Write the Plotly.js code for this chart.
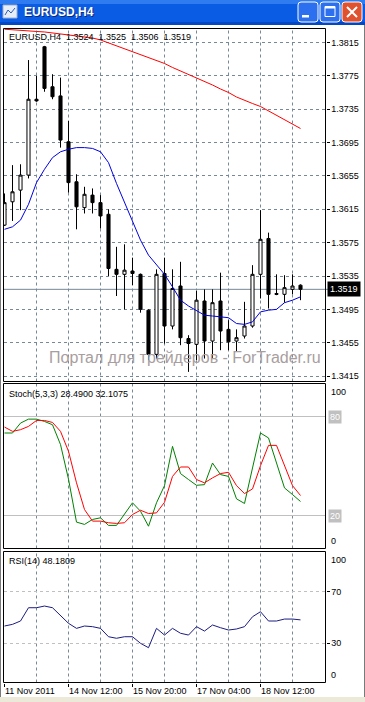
<!DOCTYPE html>
<html><head><meta charset="utf-8">
<script src="https://cdn.plot.ly/plotly-3.0.1.min.js"></script>
<style>html,body{margin:0;padding:0;background:#fff;overflow:hidden}#chart{width:365px;height:702px}</style>
</head><body><div id="chart"></div>
<script>
// ---------- data ----------
const windowTitle = 'EURUSD,H4';
const symbol = 'EURUSD,H4';
const dateLabels = ['11 Nov 2011', '14 Nov 12:00', '15 Nov 20:00', '17 Nov 04:00', '18 Nov 12:00'];
const dateLabelBars = [0, 8, 16, 24, 32];
const gridBars = [4, 8, 12, 16, 20, 24, 28, 32, 36];
const priceTicks = [1.3815, 1.3775, 1.3735, 1.3695, 1.3655, 1.3615, 1.3575, 1.3535, 1.3495, 1.3455, 1.3415];

const open  = [1.3596,1.3624,1.3638,1.3656,1.3747,1.3810,1.3762,1.3751,1.3696,1.3648,
               1.3617,1.3632,1.3623,1.3609,1.3543,1.3537,1.3541,1.3537,1.3494,1.3441,
               1.3538,1.3475,1.3523,1.3460,1.3453,1.3505,1.3457,1.3505,1.3471,1.3457,
               1.3463,1.3475,1.3537,1.3580,1.3514,1.3513,1.3519,1.3524];
const high  = [1.3634,1.3668,1.3669,1.3794,1.3775,1.3811,1.3777,1.3773,1.3721,1.3657,
               1.3642,1.3640,1.3632,1.3615,1.3570,1.3573,1.3557,1.3538,1.3495,1.3543,
               1.3557,1.3543,1.3552,1.3464,1.3517,1.3519,1.3519,1.3539,1.3482,1.3471,
               1.3504,1.3548,1.3614,1.3587,1.3537,1.3536,1.3537,1.3525];
const low   = [1.3595,1.3601,1.3614,1.3652,1.3744,1.3756,1.3747,1.3689,1.3635,1.3591,
               1.3610,1.3610,1.3592,1.3535,1.3511,1.3495,1.3524,1.3491,1.3434,1.3436,
               1.3454,1.3471,1.3452,1.3420,1.3434,1.3436,1.3436,1.3446,1.3446,1.3445,
               1.3460,1.3473,1.3508,1.3496,1.3512,1.3503,1.3513,1.3506];
const close = [1.3623,1.3636,1.3656,1.3747,1.3745,1.3760,1.3750,1.3698,1.3647,1.3618,
               1.3633,1.3623,1.3607,1.3544,1.3537,1.3542,1.3538,1.3495,1.3441,1.3537,
               1.3475,1.3520,1.3461,1.3454,1.3506,1.3457,1.3503,1.3469,1.3456,1.3461,
               1.3475,1.3537,1.3579,1.3513,1.3513,1.3521,1.3523,1.3519];

const maSlow = [1.38310,1.38301,1.38295,1.38288,1.38283,1.38277,1.38267,1.38259,1.38241,1.38229,
                1.38217,1.38205,1.38181,1.38145,1.38109,1.38073,1.38043,1.38001,1.37965,1.37935,
                1.37899,1.37851,1.37809,1.37773,1.37731,1.37689,1.37641,1.37593,1.37551,1.37497,
                1.37455,1.37419,1.37383,1.37331,1.37275,1.37221,1.37173,1.37119];
const maFast = [1.3591,1.3594,1.3602,1.3621,1.3647,1.3663,1.3677,1.3684,1.3687,1.3689,
                1.3689,1.3688,1.3684,1.3671,1.3646,1.3624,1.3600,1.3578,1.3560,1.3549,
                1.3537,1.3522,1.3506,1.3499,1.3493,1.3488,1.3487,1.3486,1.3485,1.3478,
                1.3477,1.3480,1.3492,1.3494,1.3495,1.3503,1.3506,1.3510];

const stochMain   = [70,70,76,78.4,78.4,77,75,63,42,16,
                     14.6,17.6,18.6,14,14,20.6,27.7,22.6,13.5,27.7,
                     38.1,61.9,45.4,41.8,38.3,38.7,51.8,44.8,43.7,30.1,
                     27.3,48.8,70,67,51.8,36.7,32.7,28.49];
const stochSignal = [73.6,71,72,74,77.6,77.6,76.4,71,58.9,39.8,
                     23.6,16.6,16.6,15.6,15.2,15.6,20.6,23.2,21.2,21.6,
                     28,43.7,49.4,49.4,41.8,39.8,42.8,45.4,46.2,38.1,
                     33.3,36.1,50.2,62.5,62.5,49.8,38.1,32.1075];
const stochLevels = [80, 20];
const stochBounds = [100, 0];

const rsi = [43.4,44.7,47.3,57.6,57.6,58.9,57.6,51.4,45.5,41.6,
             43.4,42.9,41.6,35.1,33.9,35.1,35.1,30,26.6,41.6,
             36.4,41.6,37.8,36.4,42.9,39.5,44.2,42.1,40.3,41.1,
             42.9,50.6,54.5,47.3,47.3,48.8,48.8,48.1809];
const rsiLevels = [70, 30];
const rsiBounds = [100, 0];

const watermark = 'Портал для трейдеров - ForTrader.ru';

// ---------- geometry helpers (pixels -> paper) ----------
const W = 365, H = 702;
const px = x => x / W;
const py = y => 1 - y / H;
const FONT = 'Liberation Sans, Arial, sans-serif';
const X0 = 3.5, X1 = 325.5;
const paneMain = [28.5, 381.5], paneStoch = [383.5, 548.5], paneRsi = [551.5, 682.5];
const GRID = '#778899';

const bars = open.map((_, i) => i);
const last = open.length - 1;
const f4 = v => v.toFixed(4);
const sp = '\u00A0\u00A0';

const traces = [
  {type: 'candlestick', x: bars, open: open, high: high, low: low, close: close,
   xaxis: 'x', yaxis: 'y', whiskerwidth: 0, hoverinfo: 'skip', showlegend: false,
   increasing: {line: {color: '#000000', width: 1}, fillcolor: '#ffffff'},
   decreasing: {line: {color: '#000000', width: 1}, fillcolor: '#000000'}},
  {type: 'scatter', mode: 'lines', x: bars, y: maSlow, xaxis: 'x', yaxis: 'y',
   line: {color: '#FF0000', width: 1}, hoverinfo: 'skip', showlegend: false},
  {type: 'scatter', mode: 'lines', x: bars, y: maFast, xaxis: 'x', yaxis: 'y',
   line: {color: '#0000E0', width: 1}, hoverinfo: 'skip', showlegend: false},
  {type: 'scatter', mode: 'lines', x: bars, y: stochMain, xaxis: 'x', yaxis: 'y2',
   line: {color: '#008000', width: 1}, hoverinfo: 'skip', showlegend: false},
  {type: 'scatter', mode: 'lines', x: bars, y: stochSignal, xaxis: 'x', yaxis: 'y2',
   line: {color: '#FF0000', width: 1}, hoverinfo: 'skip', showlegend: false},
  {type: 'scatter', mode: 'lines', x: bars, y: rsi, xaxis: 'x', yaxis: 'y3',
   line: {color: '#1C1C80', width: 1}, hoverinfo: 'skip', showlegend: false}
];

const shapes = [];
// vertical dashed grid in every pane
[paneMain, paneStoch, paneRsi].forEach(p => {
  gridBars.forEach(g => shapes.push({type: 'line', xref: 'x', yref: 'paper', x0: g, x1: g,
    y0: py(p[1]), y1: py(p[0]), line: {color: GRID, width: 1, dash: '3px,3px'}, layer: 'below'}));
});
// stochastic levels
stochLevels.forEach(l => shapes.push({type: 'line', xref: 'paper', yref: 'y2', x0: px(X0), x1: px(X1),
  y0: l, y1: l, line: {color: '#C0C0C0', width: 1}, layer: 'below'}));
// current price line
shapes.push({type: 'line', xref: 'paper', yref: 'y', x0: px(X0), x1: px(328), y0: close[last], y1: close[last],
  line: {color: GRID, width: 1}, layer: 'below'});
// pane borders
[paneMain, paneStoch, paneRsi].forEach(p => shapes.push({type: 'rect', xref: 'paper', yref: 'paper',
  x0: px(X0), x1: px(X1), y0: py(p[1]), y1: py(p[0]), line: {color: '#000000', width: 1}, layer: 'above'}));

// window chrome
function rr(x0, y0, x1, y1, r) {
  return `M${px(x0 + r)},${py(y0)} L${px(x1 - r)},${py(y0)} Q${px(x1)},${py(y0)} ${px(x1)},${py(y0 + r)} ` +
         `L${px(x1)},${py(y1 - r)} Q${px(x1)},${py(y1)} ${px(x1 - r)},${py(y1)} L${px(x0 + r)},${py(y1)} ` +
         `Q${px(x0)},${py(y1)} ${px(x0)},${py(y1 - r)} L${px(x0)},${py(y0 + r)} Q${px(x0)},${py(y0)} ${px(x0 + r)},${py(y0)} Z`;
}
const P = (o) => Object.assign({xref: 'paper', yref: 'paper', layer: 'above'}, o);
shapes.push(P({type: 'rect', x0: 0, x1: 1, y0: py(25), y1: 1, fillcolor: '#0A5CE4', line: {width: 0}}));
shapes.push(P({type: 'rect', x0: 0, x1: 1, y0: py(4), y1: 1, fillcolor: '#2F7BF0', line: {width: 0}}));
shapes.push(P({type: 'rect', x0: 0, x1: 1, y0: py(25), y1: py(22), fillcolor: '#0447C4', line: {width: 0}}));
shapes.push(P({type: 'line', x0: px(0.5), x1: px(0.5), y0: 0, y1: py(25), line: {color: '#7A7A7A', width: 1}}));
shapes.push(P({type: 'line', x0: px(364.5), x1: px(364.5), y0: 0, y1: py(25), line: {color: '#7A7A7A', width: 1}}));
shapes.push(P({type: 'rect', x0: 0, x1: 1, y0: 0, y1: py(697), fillcolor: '#ECE9D8', line: {width: 0}}));
// icon
shapes.push(P({type: 'rect', x0: px(3), x1: px(17), y0: py(18), y1: py(5), fillcolor: '#E8EEF6', line: {color: '#9DB2D0', width: 1}}));
shapes.push(P({type: 'path', path: `M${px(5)},${py(15)} L${px(8)},${py(10)} L${px(11)},${py(13)} L${px(15)},${py(8)}`,
  line: {color: '#2A5FC0', width: 1}}));
// buttons
shapes.push(P({type: 'path', path: rr(298, 2, 318, 22, 3), fillcolor: '#2C6FEF', line: {color: '#FFFFFF', width: 1}}));
shapes.push(P({type: 'rect', x0: px(302), x1: px(309), y0: py(17.5), y1: py(15), fillcolor: '#FFFFFF', line: {width: 0}}));
shapes.push(P({type: 'path', path: rr(320, 2, 340, 22, 3), fillcolor: '#2C6FEF', line: {color: '#FFFFFF', width: 1}}));
shapes.push(P({type: 'rect', x0: px(325), x1: px(335), y0: py(16.5), y1: py(6.5), line: {color: '#FFFFFF', width: 1}}));
shapes.push(P({type: 'rect', x0: px(325), x1: px(335), y0: py(8.5), y1: py(6.5), fillcolor: '#FFFFFF', line: {width: 0}}));
shapes.push(P({type: 'path', path: rr(342, 2, 362, 22, 3), fillcolor: '#E0512F', line: {color: '#FFFFFF', width: 1}}));
shapes.push(P({type: 'path', path: `M${px(347)},${py(7)} L${px(357)},${py(17)} M${px(357)},${py(7)} L${px(347)},${py(17)}`,
  line: {color: '#FFFFFF', width: 2}}));

const A = (o) => Object.assign({xref: 'paper', yref: 'paper', showarrow: false, xanchor: 'left', yanchor: 'middle',
  font: {family: FONT, size: 9, color: '#000000'}}, o);
const annotations = [
  A({x: px(23), y: py(13), text: windowTitle, font: {family: FONT, size: 12, color: '#0A2A7A', weight: 'bold'}}),
  A({x: px(22), y: py(12), text: windowTitle, font: {family: FONT, size: 12, color: '#FFFFFF', weight: 'bold'}}),
  A({x: px(7), y: py(37), text: symbol + sp + [open[last], high[last], low[last], close[last]].map(f4).join(sp)}),
  A({x: px(7), y: py(394), text: 'Stoch(5,3,3) ' + stochMain[last].toFixed(4) + ' ' + stochSignal[last].toFixed(4)}),
  A({x: px(7), y: py(561), text: 'RSI(14) ' + rsi[last].toFixed(4)}),
  A({x: px(185), y: py(357), xanchor: 'center', text: watermark, font: {family: FONT, size: 16, color: '#A89E9E'}}),
  A({x: px(326.5), yref: 'y', y: close[last], text: f4(close[last]), bgcolor: '#000000', borderpad: 2,
     font: {family: FONT, size: 9, color: '#FFFFFF'}})
];
stochLevels.forEach(l => annotations.push(A({x: px(328), yref: 'y2', y: l, text: String(l), bgcolor: '#C0C0C0',
  borderpad: 1, font: {family: FONT, size: 9, color: '#FFFFFF'}})));
annotations.push(A({x: px(329), yref: 'y2', y: stochBounds[0], yanchor: 'top', yshift: -1, text: String(stochBounds[0])}));
annotations.push(A({x: px(329), yref: 'y2', y: stochBounds[1], yanchor: 'bottom', yshift: 1, text: String(stochBounds[1])}));
annotations.push(A({x: px(329), yref: 'y3', y: rsiBounds[0], yanchor: 'top', yshift: 0, text: String(rsiBounds[0])}));
annotations.push(A({x: px(329), yref: 'y3', y: rsiBounds[1], yanchor: 'bottom', yshift: 0, text: String(rsiBounds[1])}));

const tickFont = {family: FONT, size: 9, color: '#000000'};
const layout = {
  width: W, height: H, autosize: false,
  margin: {l: 0, r: 0, t: 0, b: 0, pad: 0},
  paper_bgcolor: '#FFFFFF', plot_bgcolor: 'rgba(0,0,0,0)',
  showlegend: false, boxgap: 0.45, hovermode: false,
  xaxis: {domain: [px(X0), px(X1)], range: [-0.125, 40.125], anchor: 'y3',
    tickvals: dateLabelBars, ticktext: dateLabels, ticks: 'outside', ticklen: 3, tickcolor: '#000000',
    ticklabelposition: 'outside right', tickfont: tickFont, showgrid: false, zeroline: false,
    showline: false, rangeslider: {visible: false}, fixedrange: true, automargin: false},
  yaxis: {domain: [py(paneMain[1]), py(paneMain[0])], range: [1.340846, 1.383185], anchor: 'x', side: 'right',
    tickvals: priceTicks, ticktext: priceTicks.map(f4), ticks: 'outside', ticklen: 3, tickcolor: '#000000',
    tickfont: tickFont, showgrid: true, gridcolor: GRID, gridwidth: 1, griddash: '3px,3px',
    zeroline: false, showline: false, fixedrange: true, automargin: false},
  yaxis2: {domain: [py(paneStoch[1]), py(paneStoch[0])], range: [0, 100], anchor: 'x', side: 'right',
    showticklabels: false, ticks: '', showgrid: false, zeroline: false, showline: false, fixedrange: true, automargin: false},
  yaxis3: {domain: [py(paneRsi[1]), py(paneRsi[0])], range: [-0.4, 101.2], anchor: 'x', side: 'right',
    tickvals: rsiLevels, ticktext: rsiLevels.map(String), ticks: 'outside', ticklen: 3, tickcolor: '#000000',
    tickfont: tickFont, showgrid: true, gridcolor: '#C0C0C0', gridwidth: 1, griddash: '3px,3px',
    zeroline: false, showline: false, fixedrange: true, automargin: false},
  shapes: shapes,
  annotations: annotations
};

Plotly.newPlot('chart', traces, layout, {displayModeBar: false, staticPlot: true});
</script>
</body></html>
